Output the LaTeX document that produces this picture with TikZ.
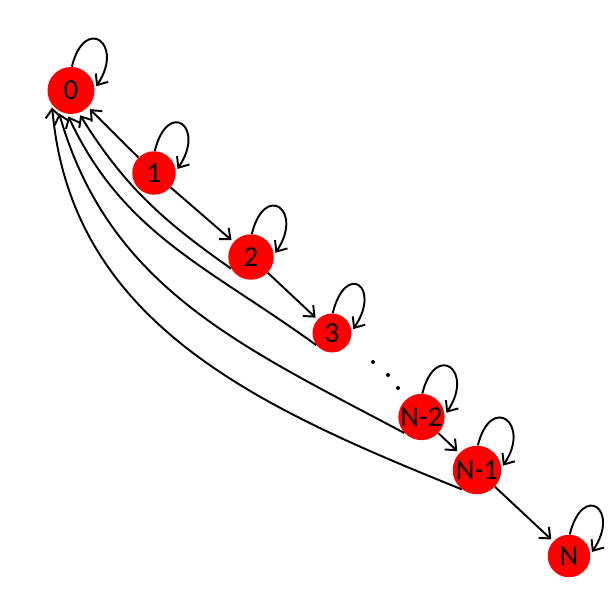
\documentclass[tikz,border=0pt]{standalone}
\usepackage{fontspec}
\setmainfont{Carlito}
\usetikzlibrary{arrows.meta}
\begin{document}
\begin{tikzpicture}[x=0.02cm,y=0.02cm,
  st/.style={circle,fill=red,inner sep=0pt,font=\fontsize{16.5}{18}\selectfont},
  arr/.style={-{Straight Barb[length=5pt,width=8.5pt]}, line width=1.1pt, shorten >=1.5pt}]
\useasboundingbox (0,0) rectangle (610,610);
\node[st,minimum size=0.94cm] (n0) at (71,519.5) {0};
\node[st,minimum size=0.87cm] (n1) at (154,437) {1};
\node[st,minimum size=0.91cm] (n2) at (251,353) {2};
\node[st,minimum size=0.78cm] (n3) at (332,277) {3};
\node[st,minimum size=0.87cm] (nN2) at (421.5,193) {N-2};
\node[st,minimum size=0.97cm] (nN1) at (477,140) {N-1};
\node[st,minimum size=0.85cm] (nN) at (569,54) {N};
% self loops
\foreach \n in {n0,n1,n2,n3,nN2,nN1,nN}{
  \draw[arr] (\n.88) .. controls +(76:54) and +(56:54) .. (\n.5);
}
% straight edges
\draw[arr] (n1) -- (n0);
\draw[arr] (n1) -- (n2);
\draw[arr] (n2) -- (n3);
\draw[arr] (nN2) -- (nN1);
\draw[arr] (nN1) -- (nN);
% curved edges back to 0
\draw[arr] (n2.210) to[out=145,in=-58] (n0.289);
\draw[arr] (n3.218) to[out=144,in=-65] (n0.261);
\draw[arr] (nN2.223) to[out=152,in=-74] (n0.238);
\draw[arr] (nN1.232) to[out=158,in=-85] (n0.217);
% dots
\fill (373,248) circle (2);
\fill (388,235) circle (2);
\fill (398,222) circle (2);
\end{tikzpicture}
\end{document}
